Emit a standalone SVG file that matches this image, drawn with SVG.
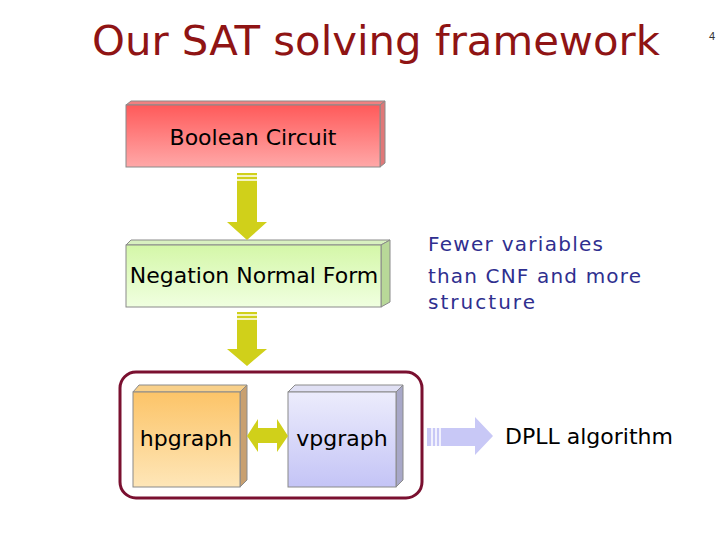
<svg xmlns="http://www.w3.org/2000/svg" width="720" height="540" viewBox="0 0 720 540">
<defs>
<linearGradient id="gRed" x1="0" y1="0" x2="0" y2="1"><stop offset="0" stop-color="#ff5a5a"/><stop offset="1" stop-color="#ffa8a8"/></linearGradient>
<linearGradient id="gGreen" x1="0" y1="0" x2="0" y2="1"><stop offset="0" stop-color="#d4f7a8"/><stop offset="1" stop-color="#f0ffe0"/></linearGradient>
<linearGradient id="gOrange" x1="0" y1="0" x2="0" y2="1"><stop offset="0" stop-color="#fcc468"/><stop offset="1" stop-color="#fee6b8"/></linearGradient>
<linearGradient id="gBlue" x1="0" y1="0" x2="0" y2="1"><stop offset="0" stop-color="#ececfc"/><stop offset="1" stop-color="#c4c4f6"/></linearGradient>
</defs>
<style>
.lbl{font-family:"DejaVu Sans","Liberation Sans",sans-serif;font-size:22px;fill:#000;text-anchor:middle}
.face{stroke:#8a8a8a;stroke-width:1}
.yarrow{fill:#d0d01a}
.stripe{stroke:#ffffff;stroke-width:1.5}
.note{font-family:"DejaVu Sans","Liberation Sans",sans-serif;font-size:20px;fill:#2f2f8f}
</style>
<rect width="720" height="540" fill="#ffffff"/>
<text x="92" y="55" font-family="DejaVu Sans, Liberation Sans, sans-serif" font-size="40" fill="#8f1414" textLength="568" lengthAdjust="spacingAndGlyphs">Our SAT solving framework</text>
<text x="712" y="40" font-family="Liberation Sans, sans-serif" font-size="11" fill="#333" text-anchor="middle">4</text>

<g id="boolean-circuit">
<polygon points="126,105 131,101 385,101 380,105" fill="#f08080" class="face"/>
<polygon points="380,105 385,101 385,163 380,167" fill="#e07878" class="face"/>
<rect x="126" y="105" width="254" height="62" fill="url(#gRed)" class="face"/>
<text x="253" y="145" class="lbl">Boolean Circuit</text>
</g>

<g id="nnf">
<polygon points="126,245 131,240 390,240 381,245" fill="#d8f0c0" class="face"/>
<polygon points="381,245 390,240 390,302 381,307" fill="#b8d898" class="face"/>
<rect x="126" y="245" width="255" height="62" fill="url(#gGreen)" class="face"/>
<text x="254" y="283" class="lbl">Negation Normal Form</text>
</g>

<rect x="120" y="372" width="302" height="126" rx="16" ry="16" fill="none" stroke="#7a1030" stroke-width="3"/>

<g id="hpgraph">
<polygon points="133,392 139,385 247,385 240,392" fill="#f8d08a" class="face"/>
<polygon points="240,392 247,385 247,480 240,487" fill="#c8a070" class="face"/>
<rect x="133" y="392" width="107" height="95" fill="url(#gOrange)" class="face"/>
<text x="186" y="446" class="lbl">hpgraph</text>
</g>

<g id="vpgraph">
<polygon points="288,392 295,385 403,385 396,392" fill="#e0e0f4" class="face"/>
<polygon points="396,392 403,385 403,480 396,487" fill="#a8a8c8" class="face"/>
<rect x="288" y="392" width="108" height="95" fill="url(#gBlue)" class="face"/>
<text x="342" y="446" class="lbl">vpgraph</text>
</g>

<g id="connectors">
<g>
<polygon class="yarrow" points="237,173 257,173 257,222 267,222 247,240 227,222 237,222"/>
<line class="stripe" x1="237" y1="176" x2="257" y2="176"/>
<line class="stripe" x1="237" y1="180" x2="257" y2="180"/>
</g>
<g>
<polygon class="yarrow" points="237,312 257,312 257,349 267,349 247,366 227,349 237,349"/>
<line class="stripe" x1="237" y1="315" x2="257" y2="315"/>
<line class="stripe" x1="237" y1="319" x2="257" y2="319"/>
</g>
<polygon class="yarrow" points="247,436 258,419 258,428 277,428 277,419 288,436 277,452 277,443 258,443 258,452"/>
<g>
<polygon fill="#c8c8f6" points="427,428 475,428 475,417 493,436 475,455 475,446 427,446"/>
<line class="stripe" x1="432" y1="428" x2="432" y2="446"/>
<line class="stripe" x1="436" y1="428" x2="436" y2="446"/>
<line class="stripe" x1="440" y1="428" x2="440" y2="446"/>
</g>
</g>

<text x="505" y="444" font-family="DejaVu Sans, Liberation Sans, sans-serif" font-size="22" fill="#000">DPLL algorithm</text>
<text class="note" x="428" y="251" textLength="175" lengthAdjust="spacing">Fewer variables</text>
<text class="note" x="428" y="283" textLength="213" lengthAdjust="spacing">than CNF and more</text>
<text class="note" x="428" y="309" textLength="107" lengthAdjust="spacing">structure</text>
</svg>
